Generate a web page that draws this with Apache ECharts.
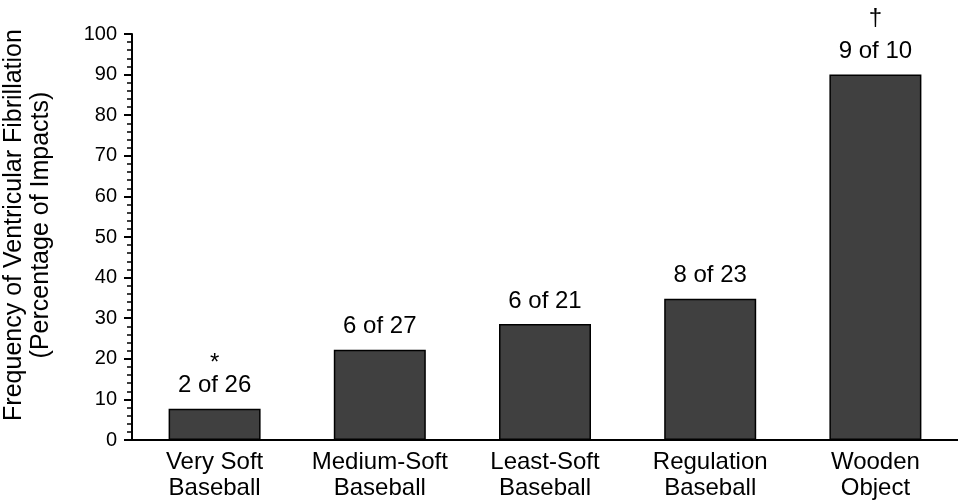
<!DOCTYPE html>
<html>
<head>
<meta charset="utf-8">
<title>Ventricular Fibrillation by Impact Object</title>
<script src="https://cdn.jsdelivr.net/npm/echarts@6/dist/echarts.min.js"></script>
<style>
  html, body { margin: 0; padding: 0; background: #fff; }
  #chart { width: 958px; height: 502px; }
</style>
</head>
<body>
<div id="chart"></div>
<script>
// Impact object groups
const categories = [
  'Very Soft\nBaseball',
  'Medium-Soft\nBaseball',
  'Least-Soft\nBaseball',
  'Regulation\nBaseball',
  'Wooden\nObject'
];
// Percentage of impacts producing ventricular fibrillation
const percentages = [7.7, 22.2, 28.6, 34.8, 90.0];
// Event counts shown above each bar
const countLabels = ['2 of 26', '6 of 27', '6 of 21', '8 of 23', '9 of 10'];
// Significance markers
const markers = ['*', '', '', '', '\u2020'];
// Y axis ticks
const yTicks = [0, 10, 20, 30, 40, 50, 60, 70, 80, 90, 100];

const FONT = 'Liberation Sans, Arial, Helvetica, sans-serif';

const chart = echarts.init(document.getElementById('chart'), null, { renderer: 'canvas' });

chart.setOption({
  animation: false,
  backgroundColor: '#ffffff',
  textStyle: { fontFamily: FONT, color: '#000' },
  grid: { left: 132, right: -8, top: 34, bottom: 62, containLabel: false },
  xAxis: {
    type: 'category',
    data: categories,
    boundaryGap: true,
    axisLine: { show: true, lineStyle: { color: '#000', width: 2 } },
    axisTick: { show: false },
    axisLabel: {
      color: '#000',
      fontFamily: FONT,
      fontSize: 24,
      lineHeight: 26,
      margin: 9,
      interval: 0
    },
    splitLine: { show: false }
  },
  yAxis: {
    type: 'value',
    min: yTicks[0],
    max: yTicks[yTicks.length - 1],
    interval: yTicks[1] - yTicks[0],
    axisLine: { show: true, lineStyle: { color: '#000', width: 2 } },
    axisTick: { show: true, length: 8, lineStyle: { color: '#000', width: 2 } },
    minorTick: { show: true, splitNumber: 5, length: 5, lineStyle: { color: '#000', width: 1.5 } },
    axisLabel: { color: '#000', fontFamily: FONT, fontSize: 20, margin: 15 },
    splitLine: { show: false },
    minorSplitLine: { show: false }
  },
  graphic: [{
    type: 'text',
    x: 28,
    y: 225,
    rotation: Math.PI / 2,
    style: {
      text: 'Frequency of Ventricular Fibrillation\n(Percentage of Impacts)',
      font: '25px ' + FONT,
      fill: '#000',
      align: 'center',
      verticalAlign: 'middle',
      lineHeight: 27
    }
  }],
  series: [{
    type: 'bar',
    data: percentages,
    barWidth: 92,
    itemStyle: { color: '#404040', borderColor: '#000', borderWidth: 1.5 },
    label: {
      show: true,
      position: 'top',
      distance: 7,
      formatter: function (p) {
        const sym = markers[p.dataIndex];
        const main = '{v|' + countLabels[p.dataIndex] + '}';
        if (!sym) return main;
        const key = sym === '*' ? 'ast' : 'dag';
        return '{' + key + '|' + sym + '}\n' + main;
      },
      rich: {
        v: { fontFamily: FONT, fontSize: 24, lineHeight: 32, color: '#000' },
        ast: { fontFamily: FONT, fontSize: 24, lineHeight: 12, color: '#000' },
        dag: { fontFamily: FONT, fontSize: 24, lineHeight: 34, color: '#000' }
      }
    }
  }]
});
</script>
</body>
</html>
